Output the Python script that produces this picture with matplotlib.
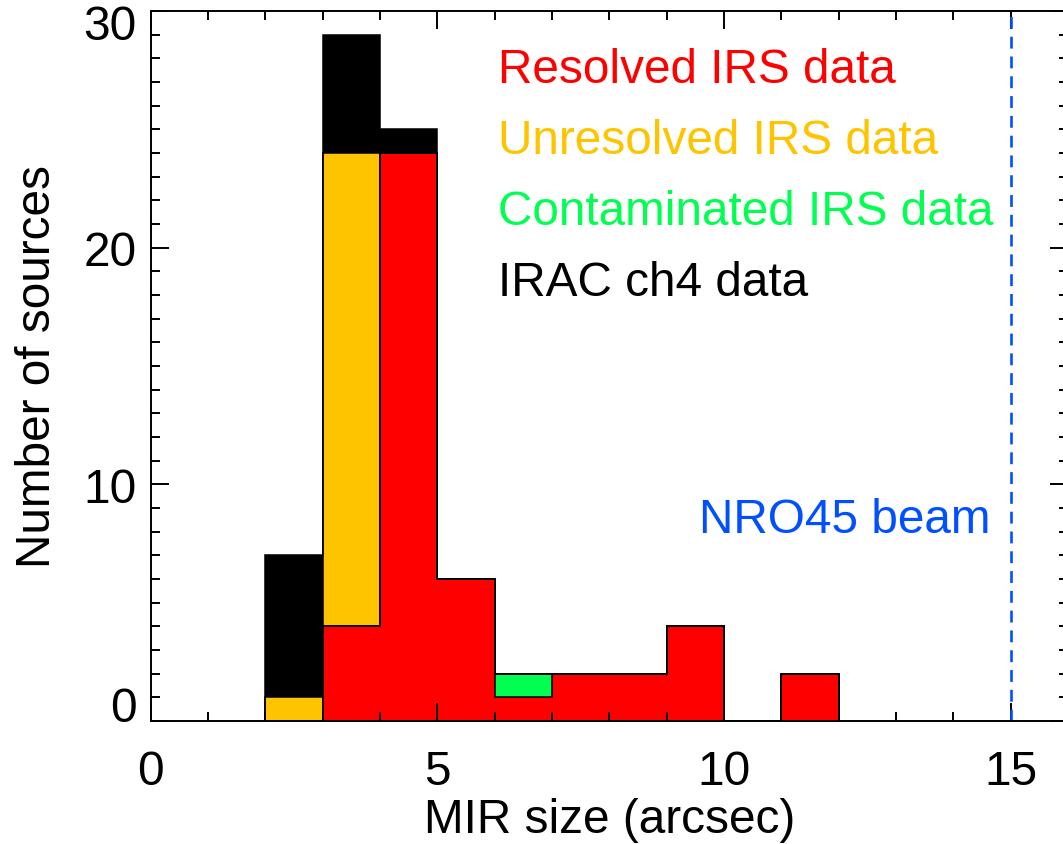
import numpy as np
import matplotlib.pyplot as plt
import matplotlib.transforms as mtransforms
from matplotlib.ticker import MultipleLocator

# histogram bins (left edges, arcsec) and counts per category
bin_left = [2, 3, 4, 5, 6, 7, 8, 9, 10, 11]
resolved = [0, 4, 24, 6, 1, 2, 2, 4, 0, 2]
contaminated = [0, 0, 0, 0, 1, 0, 0, 0, 0, 0]
unresolved = [1, 20, 0, 0, 0, 0, 0, 0, 0, 0]
irac = [6, 5, 1, 0, 0, 0, 0, 0, 0, 0]
beam = 15

labels = ['Resolved IRS data', 'Unresolved IRS data', 'Contaminated IRS data', 'IRAC ch4 data']
colors = ['#FF0000', '#FFC400', '#00FF50', '#000000']
yticks = [0, 10, 20, 30]

plt.rcParams['font.family'] = ['Liberation Sans', 'DejaVu Sans']
plt.rcParams['font.size'] = 34.4

fig = plt.figure(figsize=(10.63, 8.45), dpi=100)
ax = fig.add_axes([150.7 / 1063, 123 / 845, 917.3 / 1063, 710 / 845])

edges = np.append(bin_left, bin_left[-1] + 1)
bottom = np.zeros(len(bin_left))
tops = []
for vals, c in [(resolved, colors[0]), (contaminated, colors[2]),
                (unresolved, colors[1]), (irac, colors[3])]:
    top = bottom + np.array(vals)
    ax.stairs(top, edges, baseline=bottom, fill=True, color=c, lw=0)
    tops.append(top)
    bottom = top
# step outlines like the IDL histogram
for top in tops:
    ax.stairs(top, edges, baseline=0, color='black', lw=1.1)

ax.axvline(beam, color='#0050FF', lw=1.9, ls=(0, (4.5, 3)))
ax.text(14.64, 8, 'NRO45 beam', color='#0050FF', ha='right', va='baseline')

for i, (lab, c) in enumerate(zip(labels, colors)):
    ax.text(6.05, 27 - 3 * i, lab, color=c, ha='left', va='baseline')

ax.set_xlim(0, 16)
ax.set_ylim(0, 30)
ax.xaxis.set_major_locator(MultipleLocator(5))
ax.xaxis.set_minor_locator(MultipleLocator(1))
ax.set_yticks(yticks)
ax.yaxis.set_minor_locator(MultipleLocator(1))
ax.tick_params(which='both', direction='in', top=True, right=True, width=1.4)
ax.tick_params(which='major', length=13)
ax.tick_params(which='minor', length=6.5)
ax.tick_params(axis='x', pad=20)
ax.tick_params(axis='y', labelleft=False)
for sp in ax.spines.values():
    sp.set_linewidth(1.4)

# y tick labels kept inside the axis range, as IDL does
base = mtransforms.blended_transform_factory(ax.transAxes, ax.transData)
for v in yticks:
    va = 'center_baseline'
    dy = 0
    if v == yticks[0]:
        va = 'baseline'
    elif v == yticks[-1]:
        va = 'baseline'
        dy = -28
    trans = base + mtransforms.ScaledTranslation(-14 / 100, dy / 100, fig.dpi_scale_trans)
    ax.text(0, v, str(v), transform=trans, ha='right', va=va)

ax.set_xlabel('MIR size (arcsec)', labelpad=2)
ax.set_ylabel('Number of sources')
ax.yaxis.set_label_coords(-0.099, 0.5)

fig.savefig('out.png', dpi=100)
